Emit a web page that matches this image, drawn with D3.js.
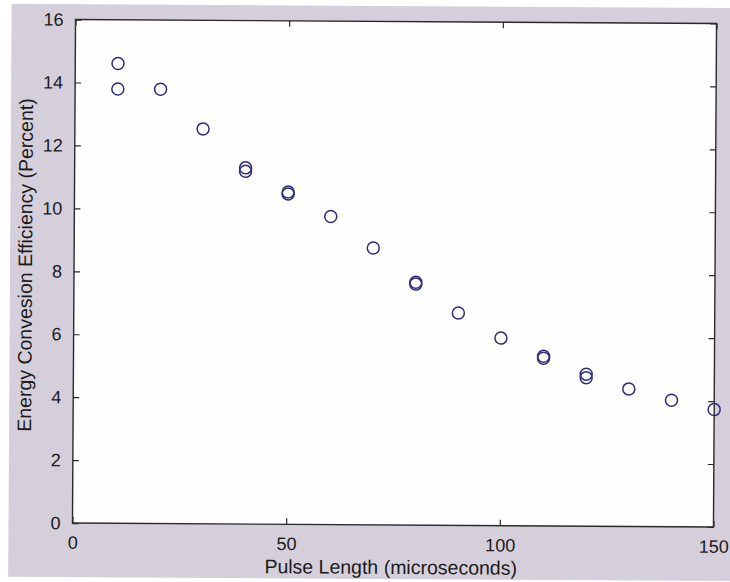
<!DOCTYPE html>
<html><head><meta charset="utf-8">
<script src="https://cdn.jsdelivr.net/npm/d3@7"></script>
<style>html,body{margin:0;padding:0;background:#fff;}svg{display:block;}</style>
</head><body>
<script>
const pulseLength = [10,10,20,30,40,40,50,50,60,70,80,80,90,100,110,110,120,120,130,140,150];
const efficiency  = [14.61,13.8,13.8,12.55,11.32,11.21,10.56,10.5,9.79,8.8,7.72,7.66,6.75,5.96,5.39,5.33,4.83,4.72,4.37,4.02,3.73];
const xTicks = [0,50,100,150];
const yTicks = [0,2,4,6,8,10,12,14,16];
const xLabel = "Pulse Length (microseconds)";
const yLabel = "Energy Convesion Efficiency (Percent)";

const W = 730, H = 582;
const svg = d3.select("body").append("svg").attr("width", W).attr("height", H);
const g = svg.append("g").attr("transform", "rotate(0.35 394 273)");

const L = 74, R = 715, T = 21.5, B = 525;
g.append("rect").attr("x", 10).attr("y", 6).attr("width", 730).attr("height", 573).attr("fill", "#d5cfdb");
g.append("rect").attr("x", L).attr("y", T).attr("width", R - L).attr("height", B - T).attr("fill", "#fefefe");

const x = d3.scaleLinear().domain([0, 150]).range([L, R]);
const y = d3.scaleLinear().domain([0, 16]).range([B, T]);

const tickLen = 6;
const axisColor = "#2a2a2a";
const font = "'Liberation Sans', Arial, Helvetica, sans-serif";

function styleAxis(sel, showText) {
  sel.select(".domain").remove();
  sel.selectAll(".tick line").attr("stroke", axisColor).attr("stroke-width", 1.2);
  sel.selectAll(".tick text").attr("fill", "#1a1a1a").style("font-family", font).style("font-size", "18px");
  if (!showText) sel.selectAll(".tick text").remove();
}

g.append("g").attr("transform", `translate(0,${B})`)
  .call(d3.axisBottom(x).tickValues(xTicks).tickFormat(d3.format("d")).tickSizeInner(-tickLen).tickSizeOuter(0).tickPadding(13))
  .call(s => styleAxis(s, true));
g.append("g").attr("transform", `translate(0,${T})`)
  .call(d3.axisTop(x).tickValues(xTicks).tickSizeInner(-tickLen).tickSizeOuter(0))
  .call(s => styleAxis(s, false));
g.append("g").attr("transform", `translate(${L},0)`)
  .call(d3.axisLeft(y).tickValues(yTicks).tickFormat(d3.format("d")).tickSizeInner(-tickLen).tickSizeOuter(0).tickPadding(12))
  .call(s => styleAxis(s, true));
g.append("g").attr("transform", `translate(${R},0)`)
  .call(d3.axisRight(y).tickValues(yTicks).tickSizeInner(-tickLen).tickSizeOuter(0))
  .call(s => styleAxis(s, false));

g.append("rect").attr("x", L).attr("y", T).attr("width", R - L).attr("height", B - T)
  .attr("fill", "none").attr("stroke", axisColor).attr("stroke-width", 1.4);

g.append("g").selectAll("circle").data(pulseLength.map((p, i) => [p, efficiency[i]])).join("circle")
  .attr("cx", d => x(d[0])).attr("cy", d => y(d[1])).attr("r", 6)
  .attr("fill", "none").attr("stroke", "#2f2e7c").attr("stroke-width", 1.5);

g.append("text").attr("x", (L + R) / 2 - 2).attr("y", 574).attr("text-anchor", "middle")
  .style("font-family", font).style("font-size", "19.5px").attr("fill", "#1a1a1a").text(xLabel);
g.append("text").attr("transform", `translate(32,${(T + B) / 2 - 6}) rotate(-90)`).attr("text-anchor", "middle")
  .style("font-family", font).style("font-size", "19.5px").attr("fill", "#1a1a1a").text(yLabel);
</script>
</body></html>
